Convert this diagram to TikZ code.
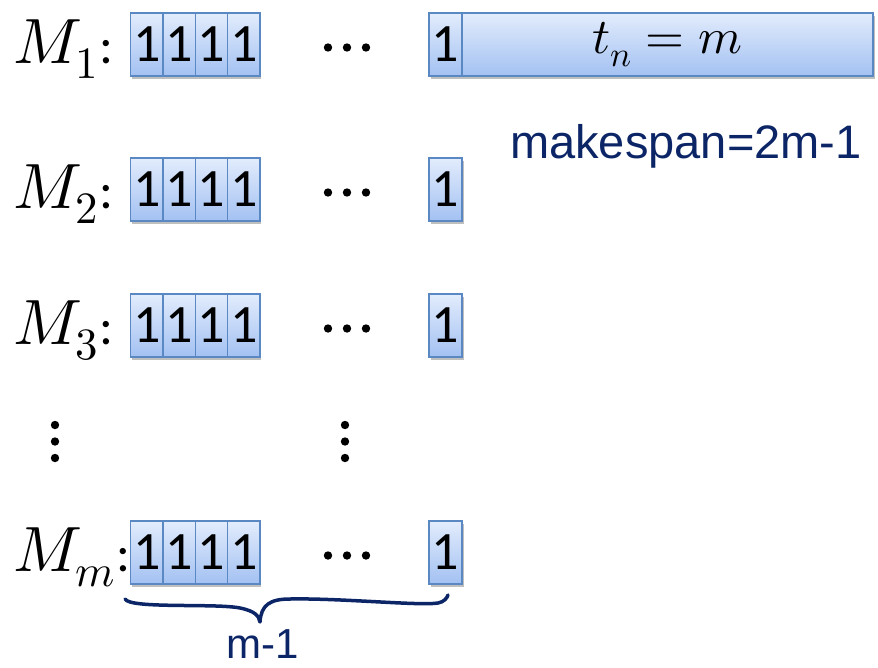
\documentclass[tikz,border=0pt]{standalone}
\usepackage{fontspec}
\usepackage{unicode-math}
\setmainfont{Carlito}
\setmathfont{Latin Modern Math}
\newfontfamily\handfont{Liberation Sans}
\usetikzlibrary{shadows}
\definecolor{cellborder}{HTML}{5A88C2}
\definecolor{celltop}{HTML}{E2ECFC}
\definecolor{cellbot}{HTML}{A3C1F2}
\definecolor{ink}{HTML}{0B2566}
\tikzset{
  cell/.style={rectangle, draw=cellborder, line width=1.2pt, top color=celltop, bottom color=cellbot,
    minimum width=32.3pt, minimum height=63pt, inner sep=0pt,
    drop shadow={shadow xshift=1.5pt, shadow yshift=-3pt, opacity=0.25, fill=black},
    font=\fontsize{54}{54}\selectfont},
  mlabel/.style={anchor=base west, inner sep=0pt, font=\fontsize{64}{64}\selectfont},
  hand/.style={ink, inner sep=0pt, font=\handfont\fontsize{47}{47}\selectfont},
}
\begin{document}
\begin{tikzpicture}[x=1pt,y=-1pt]
\useasboundingbox (0,0) rectangle (878,667);
% rows: top y of boxes
\foreach \r/\top/\sub in {1/13/1, 2/158/2, 3/294/3, m/521/m}{
  \pgfmathsetmacro{\cy}{\top+31.5}
  \foreach \k/\cx in {1/146.85, 2/179.15, 3/211.45, 4/243.75}{
    \node[cell] (c\r\k) at (\cx,\cy) {1};
  }
  \node[cell, minimum width=33pt] (l\r) at (445.5,\cy) {1};
  \node[mlabel] (M\r) at (13,\top+50) {$M_{\sub}$\kern1pt{\fontsize{52}{52}\selectfont:}};
  \foreach \dx in {328,347,366}{
    \fill (\dx,\cy+3) circle (4.2);
  }
}
\node[cell, minimum width=411pt, font=\fontsize{50}{50}\selectfont] (tn) at (667.5,44.5) {$t_n = m$};
% vertical dots
\foreach \vx in {55,345}{
  \foreach \vy in {425,441.5,458}{
    \fill (\vx,\vy) circle (4.2);
  }
}
% handwritten annotations
\node[hand, anchor=base west] (mk) at (510,158) {makespan=2m-1};
\coordinate (bl) at (125,599);
\coordinate (bt) at (260,622);
\coordinate (br) at (448,595);
\draw[ink, line width=3.5pt, line cap=round, line join=round]
  (bl) .. controls (130,609) and (215,603) .. (240,608)
       .. controls (255,611) and (259,616) .. (bt)
       .. controls (261,605) and (270,599) .. (290,599)
       .. controls (340,598) and (420,606) .. (438,603)
       .. controls (444,602) and (447,598) .. (br);
\node[hand, anchor=base west, font=\handfont\fontsize{42}{42}\selectfont] (m1) at (226,658) {m-1};
\end{tikzpicture}
\end{document}
